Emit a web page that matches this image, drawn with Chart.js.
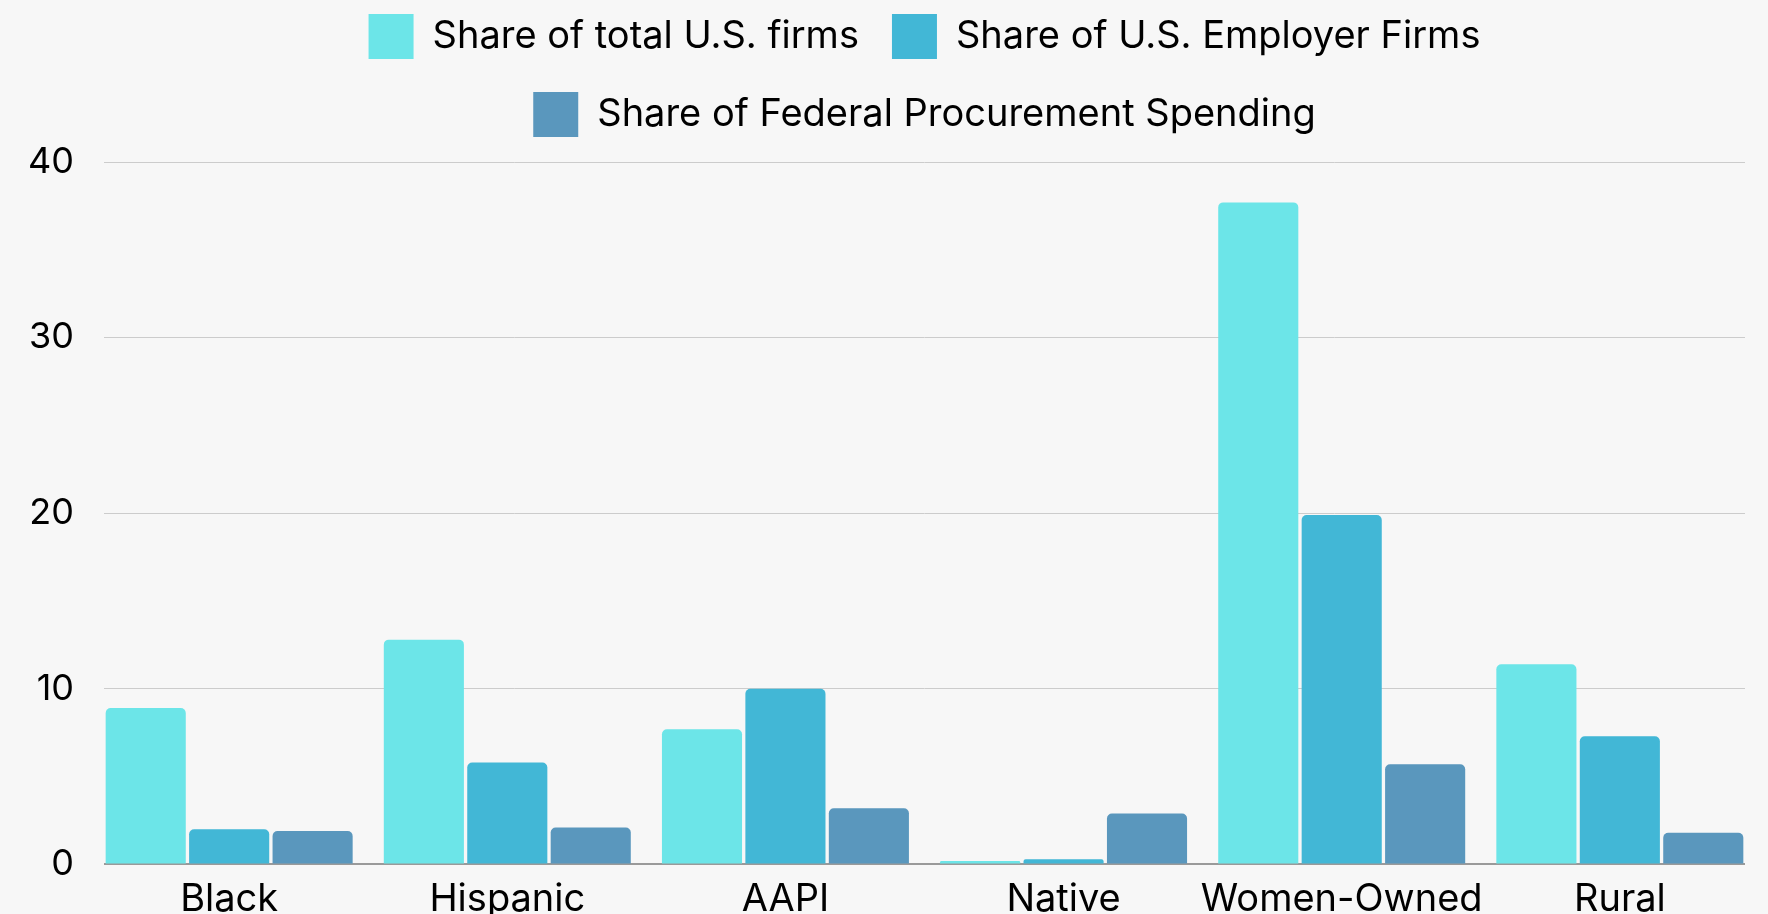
<!DOCTYPE html>
<html>
<head>
<meta charset="utf-8">
<script src="https://cdn.jsdelivr.net/npm/chart.js@4"></script>
<style>
html, body { margin: 0; padding: 0; background: #f7f7f7; overflow: hidden; width: 1768px; height: 914px; }
#wrap { position: absolute; left: 0; top: -19px; width: 1768px; height: 953px; }
</style>
</head>
<body>
<div id="wrap"><canvas id="c" width="1768" height="953"></canvas></div>
<script>
const categories = ['Black', 'Hispanic', 'AAPI', 'Native', 'Women-Owned', 'Rural'];
const seriesNames = ['Share of total U.S. firms', 'Share of U.S. Employer Firms', 'Share of Federal Procurement Spending'];
const totalFirms = [8.9, 12.8, 7.7, 0.2, 37.7, 11.4];
const employerFirms = [2.0, 5.8, 10.0, 0.3, 19.9, 7.3];
const procurementSpending = [1.9, 2.1, 3.2, 2.9, 5.7, 1.8];
const yTicks = [0, 10, 20, 30, 40];

const seriesValues = [totalFirms, employerFirms, procurementSpending];
const seriesColors = ['#6ce5e8', '#42b7d6', '#5a97bd'];

const toPoints = arr => arr.map((v, i) => ({ x: i, y: v }));

const legendSpacer = {
  id: 'legendSpacer',
  beforeLayout(chart) {
    const lg = chart.legend;
    if (lg && !lg._spacerPatched) {
      const orig = lg.fit;
      lg.fit = function () { orig.call(this); this.height += 15; };
      lg._spacerPatched = true;
    }
  }
};

Chart.defaults.font.family = 'Inter';
Chart.defaults.color = '#000';

new Chart(document.getElementById('c'), {
  type: 'bar',
  data: {
    datasets: seriesNames.map((name, k) => ({
      label: name,
      data: toPoints(seriesValues[k]),
      backgroundColor: seriesColors[k],
      borderWidth: 0,
      borderRadius: { topLeft: 5, topRight: 5, bottomLeft: 0, bottomRight: 0 },
      borderSkipped: 'bottom',
      categoryPercentage: 0.9,
      barPercentage: 0.96
    }))
  },
  options: {
    responsive: false,
    animation: false,
    devicePixelRatio: 1,
    layout: { padding: { left: 30, right: 23, top: 0, bottom: 0 } },
    plugins: {
      tooltip: { enabled: false },
      legend: {
        display: true,
        position: 'top',
        fullSize: false,
        labels: {
          boxWidth: 45,
          boxHeight: 45,
          padding: 33,
          color: '#000',
          font: { family: 'Inter', size: 38 }
        }
      }
    },
    scales: {
      x: {
        type: 'linear',
        min: -0.45,
        max: 5.45,
        offset: false,
        afterBuildTicks: s => { s.ticks = categories.map((_, i) => ({ value: i })); },
        afterFit: s => { s.paddingLeft = 0; s.paddingRight = 0; },
        grid: { display: false, drawTicks: false },
        border: { display: false },
        ticks: {
          callback: v => categories[v],
          autoSkip: false,
          maxRotation: 0,
          padding: 12,
          color: '#000',
          font: { family: 'Inter', size: 38, lineHeight: 1.2 }
        }
      },
      y: {
        min: 0,
        max: 40,
        afterBuildTicks: s => { s.ticks = yTicks.map(v => ({ value: v })); },
        afterFit: s => { s.width = 74; },
        grid: {
          drawTicks: false,
          color: c => (c.tick && c.tick.value === 0) ? '#9a9a9a' : '#cccccc',
          lineWidth: c => (c.tick && c.tick.value === 0) ? 2 : 1
        },
        border: { display: false },
        ticks: {
          padding: 30,
          color: '#000',
          font: { family: 'Inter', size: 36, lineHeight: 0.8 }
        }
      }
    }
  },
  plugins: [legendSpacer]
});
</script>
</body>
</html>
